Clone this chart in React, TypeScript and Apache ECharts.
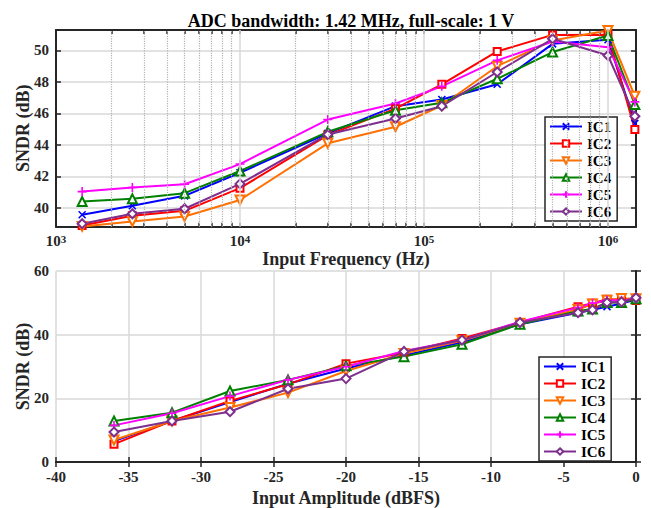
import React, { useEffect, useRef } from 'react';
import * as echarts from 'echarts';

const seriesNames = ['IC1', 'IC2', 'IC3', 'IC4', 'IC5', 'IC6'];
const seriesColors = ['#0000ff', '#ff0000', '#ff7000', '#008000', '#ff00ff', '#7e2f8e'];

// Top chart: SNDR vs input frequency
const freqHz = [1387, 2600, 5000, 10000, 30000, 70000, 125000, 250000, 500000, 1000000, 1400000];
const sndrFreqIC1 = [39.56, 40.13, 40.76, 42.23, 44.73, 46.46, 46.88, 47.85, 50.42, 50.68, 45.36];
const sndrFreqIC2 = [38.88, 39.49, 39.81, 41.25, 44.62, 46.3, 47.85, 49.94, 50.99, 51.0, 44.98];
const sndrFreqIC3 = [38.82, 39.13, 39.45, 40.5, 44.1, 45.15, 46.5, 49.0, 50.63, 51.27, 47.09];
const sndrFreqIC4 = [40.4, 40.57, 40.93, 42.34, 44.83, 46.2, 46.67, 48.2, 49.9, 50.95, 46.56];
const sndrFreqIC5 = [41.03, 41.29, 41.5, 42.78, 45.61, 46.63, 47.72, 49.37, 50.57, 50.21, 46.73];
const sndrFreqIC6 = [38.99, 39.62, 39.94, 41.52, 44.66, 45.68, 46.46, 48.63, 50.74, 49.68, 45.82];
const decadeTicks = [1e3, 1e4, 1e5, 1e6];
const minorFreqGrid = [
  2e3, 3e3, 4e3, 5e3, 6e3, 7e3, 8e3, 9e3,
  2e4, 3e4, 4e4, 5e4, 6e4, 7e4, 8e4, 9e4,
  2e5, 3e5, 4e5, 5e5, 6e5, 7e5, 8e5, 9e5,
];

// Bottom chart: SNDR vs input amplitude
const amplitudeDbfs = [-36, -32, -28, -24, -20, -16, -12, -8, -4, -3, -2, -1, 0];
const sndrAmpIC1 = [6.6, 12.9, 18.8, 24.6, 29.4, 33.5, 37.6, 43.3, 46.9, 47.8, 48.8, 49.8, 51.0];
const sndrAmpIC2 = [5.6, 12.9, 19.2, 24.4, 30.9, 34.3, 38.8, 43.8, 48.8, 49.9, 51.1, 51.0, 50.7];
const sndrAmpIC3 = [6.9, 12.9, 17.1, 21.8, 28.6, 34.1, 38.1, 43.6, 47.9, 49.6, 50.8, 51.4, 51.3];
const sndrAmpIC4 = [12.9, 15.5, 22.3, 25.8, 30.2, 33.1, 37.0, 43.3, 47.4, 48.1, 50.1, 50.1, 51.3];
const sndrAmpIC5 = [11.5, 15.3, 20.7, 25.8, 29.9, 34.9, 38.3, 44.1, 48.5, 49.9, 50.8, 50.8, 51.3];
const sndrAmpIC6 = [9.4, 12.9, 15.8, 23.0, 26.2, 34.7, 38.3, 43.8, 46.9, 47.8, 50.1, 50.3, 51.6];

const titleText = 'ADC bandwidth: 1.42 MHz, full-scale: 1 V';

const FONT = '"Liberation Serif", "Times New Roman", serif';
const AXIS_COLOR = '#262626';
const GRID_COLOR = '#d9d9d9';

const X_SYMBOL = 'path://M0,0L10,10M10,0L0,10';
const PLUS_SYMBOL = 'path://M5,0L5,10M0,5L10,5';
const symbols = [X_SYMBOL, 'emptyRect', 'emptyTriangle', 'emptyTriangle', PLUS_SYMBOL, 'emptyDiamond'];
const symbolRotates = [0, 0, 180, 0, 0, 0];
const symbolSizes = [7, 7, 9, 9, 9, 9];

export default function App() {
  const ref = useRef<HTMLDivElement>(null);

  useEffect(() => {
    document.body.style.margin = '0';
    if (!ref.current) return;
    const chart = echarts.init(ref.current, undefined, { renderer: 'svg' });

    const freqSets = [sndrFreqIC1, sndrFreqIC2, sndrFreqIC3, sndrFreqIC4, sndrFreqIC5, sndrFreqIC6];
    const ampSets = [sndrAmpIC1, sndrAmpIC2, sndrAmpIC3, sndrAmpIC4, sndrAmpIC5, sndrAmpIC6];

    const labelStyle = { fontFamily: FONT, fontWeight: 'bold' as const, fontSize: 15, color: AXIS_COLOR };
    const nameStyle = { fontFamily: FONT, fontWeight: 'bold' as const, fontSize: 18, color: AXIS_COLOR };
    const axisLine = { show: true, lineStyle: { color: AXIS_COLOR, width: 2 } };
    const tickIn = { show: true, inside: true, length: 5, lineStyle: { color: AXIS_COLOR, width: 1.5 } };
    const logTickIn = { ...tickIn, length: 4, customValues: [...decadeTicks, ...minorFreqGrid] };
    const splitLine = { show: true, lineStyle: { color: GRID_COLOR, width: 1.5 } };

    const makeSeries = (idx: number, xs: number[], ys: number[], xi: number, yi: number) => ({
      name: seriesNames[idx],
      type: 'line',
      xAxisIndex: xi,
      yAxisIndex: yi,
      data: xs.map((x, i) => [x, ys[i]]),
      symbol: symbols[idx],
      symbolRotate: symbolRotates[idx],
      symbolSize: symbolSizes[idx],
      showAllSymbol: true,
      lineStyle: { color: seriesColors[idx], width: 2 },
      itemStyle: { color: seriesColors[idx], borderColor: seriesColors[idx], borderWidth: 1.6 },
      z: 3,
    });

    const gridLineSeries = (name: string, values: number[], lineStyle: any) => ({
      name,
      type: 'line',
      xAxisIndex: 0,
      yAxisIndex: 0,
      data: [],
      silent: true,
      z: 1,
      markLine: {
        silent: true,
        symbol: ['none', 'none'],
        label: { show: false },
        lineStyle,
        emphasis: { disabled: true },
        data: values.map((v) => ({ xAxis: v })),
      },
    });

    const topY = { min: 38.8, max: 51.3, splitNumber: 6, minInterval: 2, maxInterval: 2 };

    const legendBase = {
      data: seriesNames,
      orient: 'vertical',
      itemWidth: 32,
      itemHeight: 8,
      itemGap: 2,
      padding: [2, 6, 2, 4],
      backgroundColor: '#ffffff',
      borderColor: AXIS_COLOR,
      borderWidth: 1.5,
      textStyle: { fontFamily: FONT, fontWeight: 'bold', fontSize: 15, lineHeight: 15, color: '#000' },
      selectedMode: false,
    };

    const option: any = {
      animation: false,
      backgroundColor: '#ffffff',
      title: {
        text: titleText,
        left: 346,
        textAlign: 'center',
        top: 7,
        textStyle: { fontFamily: FONT, fontWeight: 'bold', fontSize: 18, color: '#000' },
      },
      grid: [
        { left: 56, right: 15, top: 30, height: 196.7 },
        { left: 56, right: 15, top: 271, height: 192.3 },
      ],
      legend: [
        { ...legendBase, left: 545, top: 117 },
        { ...legendBase, left: 539, top: 357 },
      ],
      xAxis: [
        {
          gridIndex: 0,
          type: 'log',
          logBase: 10,
          min: 1000,
          max: 1420000,
          name: 'Input Frequency (Hz)',
          nameLocation: 'middle',
          nameGap: 23.5,
          nameMoveOverlap: false,
          nameTextStyle: nameStyle,
          axisLine,
          axisTick: logTickIn,
          splitLine: { show: false },
          axisLabel: {
            margin: 7,
            formatter: (v: number) => {
              const e = Math.round(Math.log10(v));
              if (Math.abs(v - Math.pow(10, e)) > 1e-6 * v) return '';
              return `{b|10}{s|${e}}`;
            },
            rich: {
              b: { ...labelStyle, lineHeight: 15, verticalAlign: 'bottom' },
              s: { ...labelStyle, fontSize: 11, lineHeight: 8, verticalAlign: 'top' },
            },
          },
        },
        {
          gridIndex: 0,
          type: 'log',
          logBase: 10,
          min: 1000,
          max: 1420000,
          position: 'top',
          axisLine,
          axisTick: logTickIn,
          axisLabel: { show: false },
          splitLine: { show: false },
        },
        {
          gridIndex: 1,
          type: 'value',
          min: -40,
          max: 0,
          interval: 5,
          name: 'Input Amplitude (dBFS)',
          nameLocation: 'middle',
          nameGap: 27,
          nameMoveOverlap: false,
          nameTextStyle: nameStyle,
          axisLine,
          axisTick: tickIn,
          splitLine,
          axisLabel: { ...labelStyle, margin: 7 },
        },
        {
          gridIndex: 1,
          type: 'value',
          min: -40,
          max: 0,
          interval: 5,
          position: 'top',
          axisLine,
          axisTick: tickIn,
          axisLabel: { show: false },
          splitLine: { show: false },
        },
      ],
      yAxis: [
        {
          gridIndex: 0,
          type: 'value',
          ...topY,
          name: 'SNDR (dB)',
          nameLocation: 'middle',
          nameGap: 24,
          nameMoveOverlap: false,
          nameTextStyle: nameStyle,
          axisLine,
          axisTick: tickIn,
          splitLine,
          axisLabel: {
            ...labelStyle,
            margin: 7,
            formatter: (v: number) => (Math.abs(v - Math.round(v)) < 1e-6 && Math.round(v) % 2 === 0 ? String(Math.round(v)) : ''),
          },
        },
        {
          gridIndex: 0,
          type: 'value',
          ...topY,
          position: 'right',
          axisLine,
          axisTick: tickIn,
          axisLabel: { show: false },
          splitLine: { show: false },
        },
        {
          gridIndex: 1,
          type: 'value',
          min: 0,
          max: 60,
          interval: 20,
          name: 'SNDR (dB)',
          nameLocation: 'middle',
          nameGap: 24,
          nameMoveOverlap: false,
          nameTextStyle: nameStyle,
          axisLine,
          axisTick: tickIn,
          splitLine,
          axisLabel: { ...labelStyle, margin: 7 },
        },
        {
          gridIndex: 1,
          type: 'value',
          min: 0,
          max: 60,
          interval: 20,
          position: 'right',
          axisLine,
          axisTick: tickIn,
          axisLabel: { show: false },
          splitLine: { show: false },
        },
      ],
      series: [
        gridLineSeries('decadeGrid', decadeTicks.slice(1), { color: GRID_COLOR, type: 'solid', width: 1.5 }),
        gridLineSeries('minorGrid', minorFreqGrid, { color: '#b3b3b3', type: 'dotted', width: 1.2 }),
        ...freqSets.map((ys, i) => makeSeries(i, freqHz, ys, 0, 0)),
        ...ampSets.map((ys, i) => makeSeries(i, amplitudeDbfs, ys, 2, 2)),
      ],
    };

    chart.setOption(option);
    return () => chart.dispose();
  }, []);

  return <div ref={ref} style={{ width: 651, height: 508 }} />;
}
